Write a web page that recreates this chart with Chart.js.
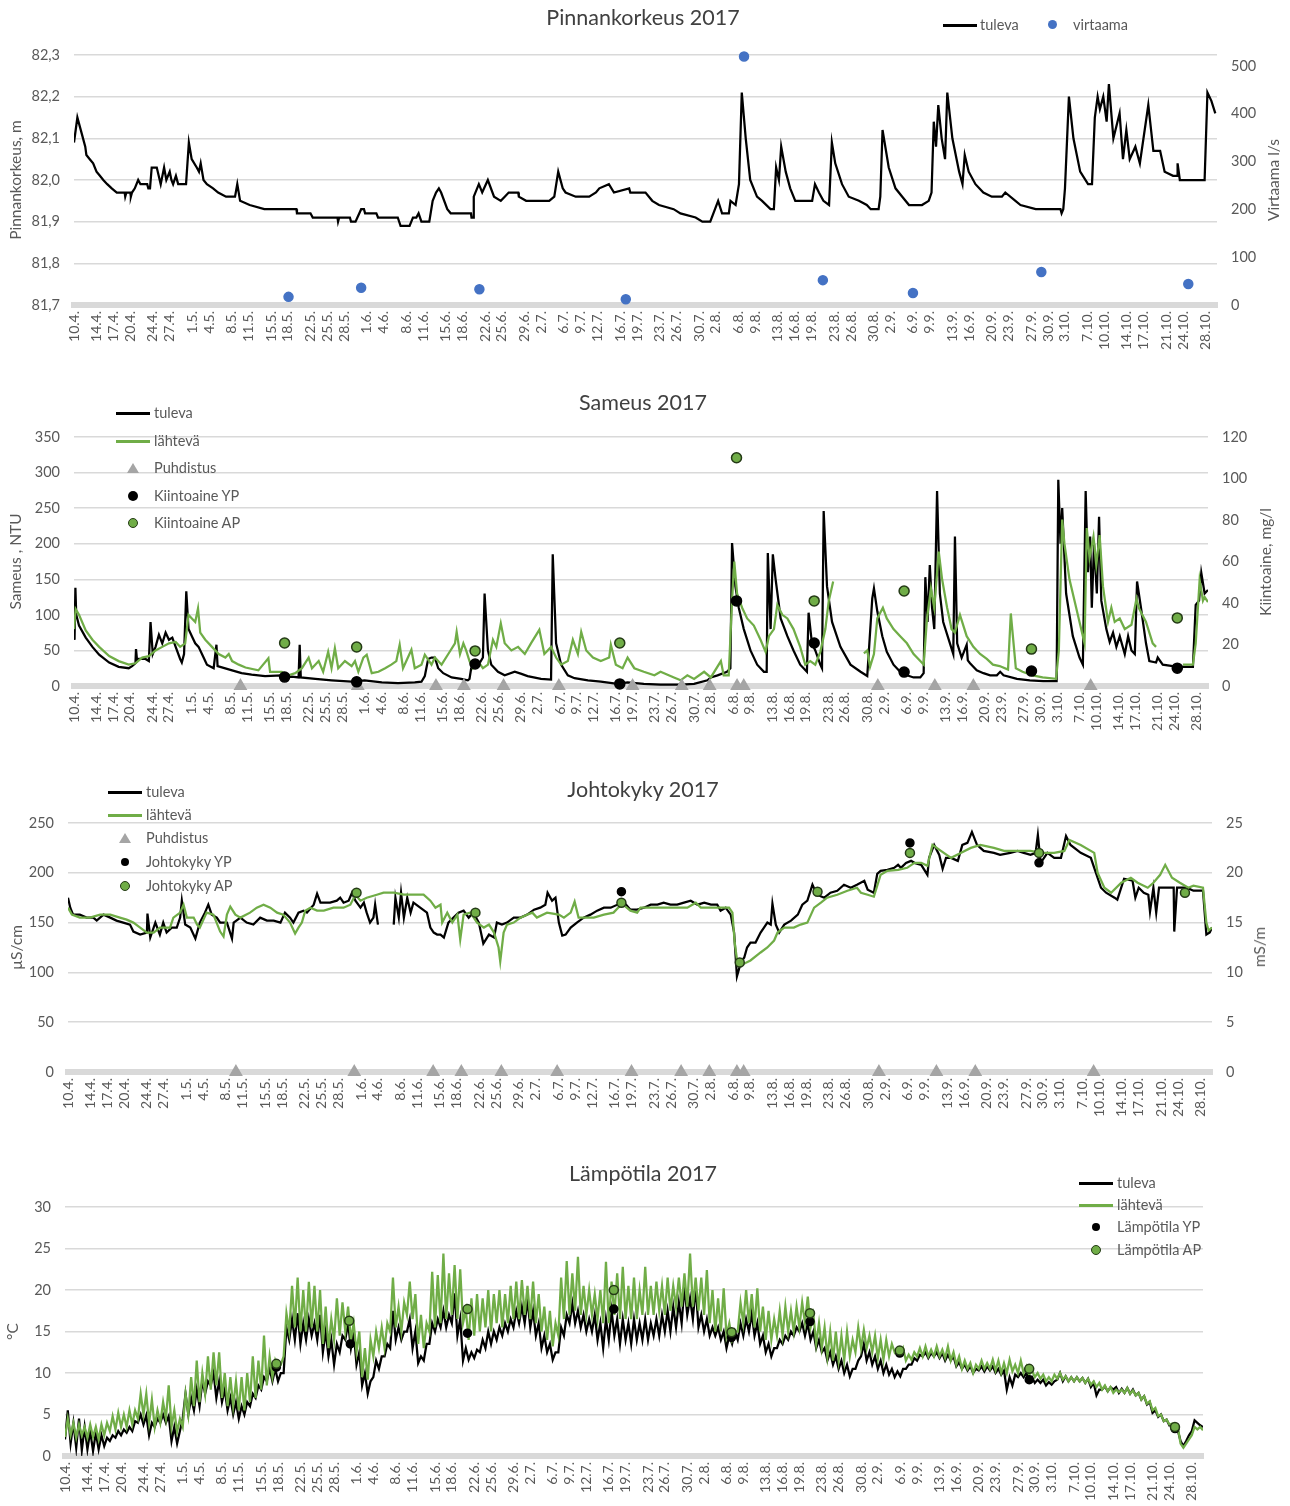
<!DOCTYPE html>
<html lang="fi">
<head>
<meta charset="utf-8">
<title>Vedenlaatu 2017</title>
<script src="https://cdn.jsdelivr.net/npm/chart.js@4.4.1/dist/chart.umd.min.js"></script>
<style>
    body { margin: 0; background: #fff; font-family: Lato, "Open Sans", sans-serif; }
    #page { position: relative; width: 1290px; height: 1506px; overflow: hidden; }
    canvas { position: absolute; left: 0; }
    .title { position: absolute; left: 0; width: 1286px; text-align: center; font-size: 21.5px; line-height: 24px; color: #404040; }
    .leg { position: absolute; font-size: 14.5px; line-height: 18px; color: #595959; white-space: nowrap; }
    .sym { position: absolute; }
    .ln { width: 34px; height: 2.5px; }
    .dot { border-radius: 50%; box-sizing: border-box; }
    .tri { width: 12px; height: 10px; background: #a5a5a5; clip-path: polygon(50% 0, 100% 100%, 0 100%); }
    .rtitle { position: absolute; font-size: 15.5px; color: #595959; white-space: nowrap; transform: translate(-50%, -50%) rotate(-90deg); }
</style>
</head>
<body>
<div id="page">
    <canvas id="levelChart" width="1290" height="380" style="top:0"></canvas>
    <canvas id="turbChart" width="1290" height="375" style="top:385px"></canvas>
    <canvas id="condChart" width="1290" height="375" style="top:770px"></canvas>
    <canvas id="tempChart" width="1290" height="351" style="top:1155px"></canvas>

    <!-- otsikot -->
    <div class="title" style="top:5px">Pinnankorkeus 2017</div>
    <div class="title" style="top:390px">Sameus 2017</div>
    <div class="title" style="top:777px">Johtokyky 2017</div>
    <div class="title" style="top:1161px">Lämpötila 2017</div>

    <!-- oikeat akselit -->
    <div class="rtitle" style="left:1273px;top:180px">Virtaama l/s</div>
    <div class="rtitle" style="left:1265px;top:562px">Kiintoaine, mg/l</div>
    <div class="rtitle" style="left:1259px;top:947px">mS/m</div>

    <!-- selitteet: pinnankorkeus -->
    <div class="sym ln" style="left:943px;top:24px;background:#000"></div>
    <div class="leg" style="left:980px;top:16px">tuleva</div>
    <div class="sym dot" style="left:1048px;top:20px;width:9px;height:9px;background:#4472c4"></div>
    <div class="leg" style="left:1073px;top:16px">virtaama</div>

    <!-- selitteet: sameus -->
    <div class="sym ln" style="left:116px;top:412px;background:#000"></div>
    <div class="leg" style="left:154px;top:404px">tuleva</div>
    <div class="sym ln" style="left:116px;top:440px;background:#70ad47"></div>
    <div class="leg" style="left:154px;top:432px">lähtevä</div>
    <div class="sym tri" style="left:127px;top:463px"></div>
    <div class="leg" style="left:154px;top:459px">Puhdistus</div>
    <div class="sym dot" style="left:128px;top:491px;width:10px;height:10px;background:#000"></div>
    <div class="leg" style="left:154px;top:487px">Kiintoaine YP</div>
    <div class="sym dot" style="left:128px;top:518px;width:10px;height:10px;background:#70ad47;border:1.5px solid #243a16"></div>
    <div class="leg" style="left:154px;top:514px">Kiintoaine AP</div>

    <!-- selitteet: johtokyky -->
    <div class="sym ln" style="left:108px;top:791px;background:#000"></div>
    <div class="leg" style="left:146px;top:783px">tuleva</div>
    <div class="sym ln" style="left:108px;top:814px;background:#70ad47"></div>
    <div class="leg" style="left:146px;top:806px">lähtevä</div>
    <div class="sym tri" style="left:119px;top:833px"></div>
    <div class="leg" style="left:146px;top:829px">Puhdistus</div>
    <div class="sym dot" style="left:121px;top:858px;width:8px;height:8px;background:#000"></div>
    <div class="leg" style="left:146px;top:853px">Johtokyky YP</div>
    <div class="sym dot" style="left:120px;top:881px;width:10px;height:10px;background:#70ad47;border:1.5px solid #243a16"></div>
    <div class="leg" style="left:146px;top:877px">Johtokyky AP</div>

    <!-- selitteet: lämpötila -->
    <div class="sym ln" style="left:1079px;top:1182px;background:#000"></div>
    <div class="leg" style="left:1117px;top:1174px">tuleva</div>
    <div class="sym ln" style="left:1079px;top:1204px;background:#70ad47"></div>
    <div class="leg" style="left:1117px;top:1196px">lähtevä</div>
    <div class="sym dot" style="left:1092px;top:1223px;width:8px;height:8px;background:#000"></div>
    <div class="leg" style="left:1117px;top:1218px">Lämpötila YP</div>
    <div class="sym dot" style="left:1091px;top:1245px;width:10px;height:10px;background:#70ad47;border:1.5px solid #243a16"></div>
    <div class="leg" style="left:1117px;top:1241px">Lämpötila AP</div>
</div>

<script>
// päivä 0 = 10.4.2017, x-akselilla päivinä
const tickDays = [0, 4, 7, 10, 14, 17, 21, 24, 28, 31, 35, 38, 42, 45, 48, 52, 55, 59, 62, 66, 69, 73, 76, 80, 83, 87, 90, 93, 97, 100,
    104, 107, 111, 114, 118, 121, 125, 128, 131, 135, 138, 142, 145, 149, 152, 156, 159, 163, 166, 170, 173, 176, 180, 183, 187, 190, 194, 197, 201];
const tickLabels = ["10.4.", "14.4.", "17.4.", "20.4.", "24.4.", "27.4.", "1.5.", "4.5.", "8.5.", "11.5.", "15.5.", "18.5.", "22.5.", "25.5.",
    "28.5.", "1.6.", "4.6.", "8.6.", "11.6.", "15.6.", "18.6.", "22.6.", "25.6.", "29.6.", "2.7.", "6.7.", "9.7.", "12.7.", "16.7.", "19.7.",
    "23.7.", "26.7.", "30.7.", "2.8.", "6.8.", "9.8.", "13.8.", "16.8.", "19.8.", "23.8.", "26.8.", "30.8.", "2.9.", "6.9.", "9.9.", "13.9.",
    "16.9.", "20.9.", "23.9.", "27.9.", "30.9.", "3.10.", "7.10.", "10.10.", "14.10.", "17.10.", "21.10.", "24.10.", "28.10."];

// puhdistuspäivät (näkyvät sameus- ja johtokykykuvissa x-akselilla)
const cleaningDays = [29.8, 50.8, 64.8, 69.8, 76.9, 86.8, 100, 108.8, 113.8, 118.7, 119.9, 143.9, 154.1, 161, 182];

// --- Pinnankorkeus, m [päivä, arvo]
const levelTicks = [81.7, 81.8, 81.9, 82.0, 82.1, 82.2, 82.3];
const flowTicks = [0, 100, 200, 300, 400, 500];
const levelIn = [[0,82.09],[0.6,82.15],[1.4,82.11],[2,82.08],[2.2,82.06],[2.8,82.05],[3.4,82.04],[4,82.02],[4.6,82.01],[5.2,82.0],[5.9,81.99],
    [6.7,81.98],[7.6,81.97],[9,81.97],[9.1,81.96],[9.3,81.97],[10,81.97],[10.1,81.96],[10.3,81.97],[10.8,81.98],[11.4,82.0],[11.8,81.99],[13,81.99],
    [13.2,81.98],[13.5,81.98],[13.8,82.03],[14.7,82.03],[15.4,81.99],[16,82.03],[16.4,82.0],[17,82.02],[17.3,82.0],[17.6,81.99],[18.1,82.01],
    [18.5,81.99],[19.9,81.99],[20.4,82.09],[20.9,82.05],[21.8,82.03],[22.2,82.02],[22.5,82.04],[23,82.0],[23.6,81.99],[24.7,81.98],[25.6,81.97],
    [27,81.96],[28.6,81.96],[29,81.99],[29.5,81.95],[31.2,81.94],[33.8,81.93],[39.5,81.93],[39.6,81.92],[42,81.92],[42.4,81.91],[46.8,81.91],
    [46.9,81.9],[47.1,81.91],[49,81.91],[49.2,81.9],[50,81.9],[51,81.93],[51.5,81.93],[51.7,81.92],[53.7,81.92],[54,81.91],[57.5,81.91],[58,81.89],
    [59.6,81.89],[60.2,81.91],[60.8,81.91],[61.2,81.92],[61.7,81.9],[63.1,81.9],[63.7,81.95],[64.3,81.97],[64.8,81.98],[65.2,81.97],[66.3,81.93],
    [66.9,81.92],[70.5,81.92],[70.6,81.91],[70.9,81.91],[71,81.96],[71.9,81.99],[72.5,81.97],[73.5,82.0],[74.6,81.96],[75.8,81.95],[76.5,81.96],
    [77.2,81.97],[78.9,81.97],[79,81.96],[80.3,81.95],[84.4,81.95],[85.3,81.96],[86,82.02],[86.8,81.98],[87.3,81.97],[89.1,81.96],[91.5,81.96],
    [92.7,81.97],[93.3,81.98],[95,81.99],[95.9,81.97],[98.6,81.98],[98.8,81.97],[101.5,81.97],[102.7,81.95],[103.9,81.94],[106.5,81.93],
    [107.7,81.92],[110.4,81.91],[111.6,81.9],[113,81.9],[114.4,81.95],[115.1,81.92],[116.3,81.92],[116.6,81.95],[117.5,81.94],[118.1,81.99],
    [118.6,82.21],[119.3,82.1],[120.1,82.0],[121.3,81.96],[122.2,81.95],[123.7,81.93],[124.3,81.93],[124.7,82.03],[125.2,82.0],[125.6,82.08],
    [126.4,82.02],[127.2,81.98],[128.1,81.95],[131.1,81.95],[131.6,81.99],[132.3,81.97],[133.1,81.95],[134.1,81.94],[134.6,82.09],[135.2,82.04],
    [136.4,81.99],[137.6,81.96],[139.4,81.95],[140.8,81.94],[141.5,81.93],[142.9,81.93],[143.2,81.96],[143.6,82.12],[144.7,82.03],[145.9,81.98],
    [147.1,81.96],[148.3,81.94],[150.6,81.94],[151.8,81.95],[152.3,81.97],[152.7,82.14],[153.1,82.08],[153.5,82.18],[154.1,82.1],[154.7,82.05],
    [155.1,82.21],[156,82.1],[157.2,82.02],[157.8,81.99],[158.2,82.06],[158.9,82.02],[160.1,81.99],[161.5,81.97],[163,81.96],[164.8,81.96],
    [165.4,81.97],[167.2,81.95],[168.1,81.94],[170.8,81.93],[175.2,81.93],[175.4,81.92],[175.7,81.93],[176,81.98],[176.7,82.2],[177.5,82.1],
    [178.7,82.02],[180.1,81.99],[180.8,81.99],[181.3,82.15],[181.8,82.2],[182.2,82.17],[182.8,82.2],[183.4,82.14],[183.8,82.23],[184.6,82.1],
    [185.7,82.16],[186.3,82.05],[186.9,82.12],[187.5,82.05],[188.5,82.08],[189.3,82.04],[190.8,82.18],[191.7,82.07],[192.9,82.07],[193.7,82.02],
    [195.2,82.01],[195.9,82.01],[196,82.04],[196.4,82.0],[200.8,82.0],[201.3,82.21],[202,82.19],[202.7,82.16]];
// virtaama l/s
const flow = [[38.1,17],[51,36],[72,33],[98,12],[119,520],[133,52],[149,25],[171.8,69],[197.9,44]];

// --- Sameus, NTU ja kiintoaine, mg/l
const turbTicks = [0, 50, 100, 150, 200, 250, 300, 350];
const solidsTicks = [0, 20, 40, 60, 80, 100, 120];
const turbIn = [[0,70],[0.1,65],[0.25,138],[0.4,100],[0.9,85],[2.1,68],[3.3,55],[4.5,44],[6.3,33],[8,27],[9.8,25],[10.4,28],[11,32],[11.1,52],
    [11.3,35],[11.6,38],[12.8,38],[13.4,35],[13.7,90],[14.1,45],[14.6,55],[15.2,72],[15.8,60],[16.4,75],[17,65],[17.6,68],[18.2,55],[19,38],
    [19.3,33],[19.7,45],[20.1,133],[20.5,80],[21.1,70],[21.7,60],[22.3,55],[23.2,40],[23.8,30],[25,25],[25.5,58],[25.7,28],[28.3,22],[30,18],
    [31.8,16],[34.2,14],[37.2,15],[37.8,12],[39,13],[40.2,12],[40.4,58],[40.6,12],[43.2,10],[46.1,8],[49.7,6],[50.9,7],[52,8],[55.1,5],[58,4],
    [61,5],[62.2,6],[62.8,14],[63.4,38],[64,40],[64.6,40],[65.2,25],[66.1,18],[67.6,12],[69.3,10],[70.5,8],[70.8,10],[71.1,25],[71.7,30],
    [72.3,28],[73.2,40],[73.5,130],[74.1,50],[74.7,30],[75.9,20],[77.1,15],[78.9,20],[80.1,17],[81.2,14],[83.6,10],[85.4,9],[85.7,185],[86.3,60],
    [87.2,30],[88.4,15],[89.6,11],[92,8],[94.3,6],[97.3,3],[99.1,5],[102,3],[105,2],[108.6,2],[111,3],[113.4,8],[114,12],[115.2,15],[116.9,20],
    [117.5,25],[117.8,201],[118.4,140],[119,110],[119.9,80],[121.1,50],[122.3,30],[123.5,20],[124,20],[124.2,187],[124.7,80],[125.1,185],
    [125.6,150],[126.5,95],[127.7,70],[128.8,50],[130,30],[131.2,20],[131.5,103],[132.1,60],[132.7,50],[133.6,30],[133.9,25],[134.2,246],
    [134.8,140],[135.7,90],[137.2,55],[139,30],[140.8,20],[142,14],[142.9,123],[143.2,137],[143.8,105],[144.7,70],[145.5,48],[146.7,30],
    [147.9,20],[149.1,15],[150.3,12],[151.5,12],[152.1,18],[152.4,153],[152.8,90],[153.2,170],[153.6,110],[154,80],[154.5,274],[155,130],
    [155.6,90],[156.8,60],[157.4,45],[157.7,210],[158.1,60],[158.9,40],[159.8,58],[160,36],[160.4,32],[161.6,22],[162.8,18],[164,15],[165.2,15],
    [165.8,20],[166.4,15],[168.8,10],[171.1,8],[173.5,7],[175.9,7],[176.2,290],[176.6,200],[176.9,250],[177.6,130],[178.8,70],[180,40],
    [180.6,30],[181.1,274],[181.5,160],[181.9,210],[182.2,110],[182.6,200],[183.1,130],[183.5,238],[183.9,120],[184.8,80],[185.4,62],[186,75],
    [186.6,55],[187.2,70],[188.1,45],[188.7,70],[189.3,50],[189.9,45],[190.3,147],[191,110],[191.9,60],[192.5,35],[193.7,33],[194,40],[194.9,30],
    [196.7,28],[198.5,27],[200.3,27],[200.8,114],[201.4,120],[201.8,159],[202.4,130],[203,135]];
const turbOut = [[0,80],[0.3,108],[0.9,100],[2.1,78],[3.3,65],[4.5,55],[6.3,42],[8,35],[9.8,30],[11,32],[12.2,40],[13.4,42],[14.6,50],[15.8,55],
    [17,60],[18.2,62],[19,55],[19.9,60],[20.5,100],[21.1,95],[21.7,90],[22.2,109],[22.6,75],[23.5,65],[24.7,55],[25.9,45],[27.1,40],[27.7,45],
    [28.3,35],[29.5,30],[30.7,26],[33,22],[34.8,39],[35.1,20],[37.2,20],[38.4,15],[39.6,18],[40.8,25],[42,40],[42.6,25],[43.8,35],[44.6,20],
    [45.5,48],[46.1,25],[46.7,53],[47.3,25],[48.5,35],[49.7,28],[50.3,35],[50.9,20],[51.8,40],[52.4,44],[53.3,18],[54.5,20],[55.7,25],[56.8,30],
    [57.7,35],[58.3,58],[58.9,25],[60.4,51],[61,25],[62.2,30],[62.8,44],[64,30],[64.6,40],[65.8,30],[67,45],[68.2,60],[68.5,76],[69.1,45],
    [69.7,60],[70.2,50],[70.8,35],[71.4,25],[72.3,35],[73.2,25],[74.1,30],[75,65],[75.6,55],[76.4,88],[77.1,60],[78.3,50],[79.5,55],[80.7,45],
    [81.8,60],[83.3,79],[84.2,45],[85.4,55],[86.3,40],[87.2,30],[88.4,35],[89.3,65],[90.2,45],[90.8,76],[91.7,50],[92.9,40],[94.3,35],[95.8,40],
    [96.1,58],[97,30],[98.2,25],[99.1,40],[100.3,25],[102,20],[103.9,15],[105,20],[107.4,12],[108.6,8],[109.8,15],[111,10],[112.8,20],[114,12],
    [115.8,35],[116.3,15],[117.2,15],[117.8,120],[118.2,175],[118.7,130],[119.6,110],[120.5,95],[121.7,85],[122.9,65],[123.8,48],[124.4,70],
    [125.3,80],[125.9,114],[126.8,100],[127.7,95],[128.8,80],[130,55],[130.9,30],[131.8,35],[132.7,30],[133.6,48],[134.5,80],[135.1,119],
    [135.9,147],[138,null],[141.4,46],[142,50],[142.5,27],[143.2,45],[143.8,95],[144.8,110],[145.5,95],[146.7,80],[147.9,70],[149.1,60],
    [150.3,45],[151.5,35],[152.1,30],[152.7,95],[153.4,137],[154,110],[154.8,189],[155.4,150],[156.3,110],[157.1,80],[157.7,75],[158.6,100],
    [159.8,70],[161,55],[162.2,45],[163.4,38],[164.5,30],[165.7,28],[167.2,23],[167.7,102],[168.6,25],[169.8,20],[171.6,15],[173.4,12],
    [175.8,10],[176.3,50],[176.9,234],[177.3,200],[178.2,150],[179.4,110],[180.6,70],[180.9,60],[181.3,222],[181.8,180],[182.5,210],[183,170],
    [183.6,212],[184.2,140],[185.1,90],[185.7,110],[186.3,90],[187.2,95],[188.1,80],[189.3,86],[190.2,123],[190.6,110],[191.9,90],[193.1,60],
    [193.7,55],[196,null],[198.5,30],[200.3,30],[200.8,60],[201.5,149],[202.1,120],[202.4,125],[203,118]];
const solidsIn = [[37.7,4.3],[50.6,2],[71.8,10.6],[97.7,1],[118.6,41],[132.5,20.7],[148.6,6.7],[171.4,7.2],[197.5,8.6]];
const solidsOut = [[37.7,20.7],[50.6,18.8],[71.8,16.9],[97.7,20.7],[118.6,110],[132.5,41],[148.6,45.8],[171.4,17.8],[197.5,32.8]];

// --- Johtokyky, µS/cm (oikea akseli mS/m)
const condTicks = [0, 50, 100, 150, 200, 250];
const condTicksMs = [0, 5, 10, 15, 20, 25];
const condIn = [[0,175],[0.4,165],[0.9,158],[2.1,158],[3.3,155],[4.5,155],[5.1,152],[6.3,158],[7.5,155],[8.6,152],[9.8,150],[11,148],[11.6,141],
    [12.8,138],[14,140],[14.1,159],[14.6,135],[15.5,150],[16.3,138],[16.9,150],[17.5,140],[18.4,145],[19.3,145],[19.9,155],[20.2,172],[20.8,148],
    [21.7,145],[22.6,134],[23.4,150],[24.3,160],[24.9,168],[25.5,158],[26.4,155],[27,150],[28.2,150],[29.1,134],[29.4,150],[30.6,155],[31.7,150],
    [32.9,148],[34.1,155],[35.3,152],[36.5,152],[37.7,150],[38.5,160],[39.4,155],[40,150],[40.9,160],[41.8,162],[42.4,160],[43.6,168],[44.2,179],
    [44.8,170],[46.5,170],[47.7,172],[48.3,175],[48.9,170],[49.8,172],[50.4,180],[51,172],[51.9,165],[52.5,170],[53,160],[53.6,150],[54.2,155],
    [54.5,168],[55,148],[56.5,null],[57.8,148],[58.1,175],[58.7,155],[59.1,180],[59.6,155],[60.2,175],[60.8,160],[61.3,170],[62.5,165],
    [63.7,160],[64.3,145],[64.9,140],[65.5,138],[66.1,138],[66.7,135],[67.5,150],[68.4,155],[69.3,160],[70.2,162],[71.1,155],[71.9,160],
    [72.9,150],[73.7,129],[74.7,138],[75.6,135],[76.1,150],[77,148],[77.9,150],[79.1,155],[80.3,155],[81.5,158],[82.7,163],[83.8,165],[84.7,168],
    [85.1,180],[85.9,172],[86.5,175],[87.1,150],[87.7,137],[88.3,138],[89.2,145],[90.3,150],[91.5,155],[92.7,158],[93.9,162],[95.1,165],
    [96.3,165],[97.5,168],[98.2,172],[99,168],[99.8,163],[101,163],[102.2,165],[103.4,168],[104.6,168],[105.7,170],[106.9,168],[108.1,168],
    [109.3,170],[110.5,172],[111.7,168],[112.9,170],[114.1,168],[115.2,168],[115.8,162],[116.7,165],[117.6,158],[118.2,140],[118.7,96],
    [119.4,110],[120,115],[120.5,125],[121.1,130],[122,130],[122.9,140],[123.5,145],[124.1,150],[124.7,148],[125,169],[125.6,148],[126.2,140],
    [127.1,148],[128.3,152],[129.5,158],[130.3,168],[131.2,172],[132.1,188],[132.9,178],[134.2,175],[135.3,180],[136.5,182],[137.7,188],
    [138.9,185],[140,188],[141.3,192],[141.9,183],[143,180],[143.6,199],[144.2,202],[145.4,203],[146.6,205],[147.3,208],[147.8,205],[148.7,210],
    [149.6,212],[150.2,210],[151.4,208],[152.5,198],[152.8,215],[153.7,228],[154.6,218],[155.2,204],[155.8,215],[156.7,215],[157.9,212],
    [158.7,228],[159.6,230],[160.4,241],[161.3,228],[162.5,222],[164.3,220],[165.4,218],[167.2,220],[168.5,222],[169.6,220],[170.8,218],
    [171.7,220],[172.1,238],[172.6,210],[173.8,220],[175,215],[176.2,215],[177.1,237],[177.9,228],[179.7,220],[181.5,215],[182.1,205],
    [183.3,185],[184.2,180],[185.7,175],[186.2,173],[187.4,194],[188.9,192],[189.4,175],[190,185],[190.9,180],[191.7,178],[192,161],[192.6,185],
    [193.1,160],[193.6,185],[195,185],[196.2,185],[196.3,141],[196.8,185],[198.5,185],[199.7,182],[201.4,182],[201.7,160],[202,138],[202.6,140],
    [203,145]];
const condOut = [[0,165],[0.7,158],[2.1,155],[3.9,155],[5.7,158],[7.5,158],[9.2,155],[10.4,153],[11.6,150],[12.8,145],[14,140],[15.2,140],
    [16.3,145],[18.1,145],[18.7,155],[19.9,160],[20.5,168],[21.1,155],[22.3,155],[22.9,148],[23.4,145],[24.6,160],[25.8,158],[27,141],[27.6,136],
    [28.2,158],[28.8,166],[29.7,158],[30.6,155],[32.3,160],[33.5,165],[34.7,168],[35.9,165],[37.1,160],[38.2,158],[39.4,150],[40.3,139],
    [40.9,145],[41.5,150],[42.1,162],[43,165],[44.2,162],[45.4,162],[47.1,165],[48.9,165],[50.1,168],[51,178],[51.9,172],[53,175],[54.8,178],
    [56,180],[57.8,180],[59.6,178],[61.3,178],[63.1,178],[64.3,172],[65.2,165],[66.1,168],[66.4,150],[67.3,160],[68.2,150],[69.1,158],[69.6,133],
    [70.2,158],[71.4,160],[72.6,150],[73.8,145],[74.7,148],[75.6,140],[76.4,125],[76.7,111],[77.3,140],[77.9,148],[79.1,150],[80.3,155],
    [81.5,158],[82.4,160],[83.2,155],[85,160],[87.1,158],[88,155],[89.2,160],[89.9,171],[90.6,155],[92.1,155],[93.3,155],[95.1,158],[96.8,160],
    [98.3,169],[99.8,162],[101,160],[101.6,165],[103.4,165],[105.7,165],[108.1,165],[109.9,165],[111.4,170],[112.3,165],[114.1,165],[115.8,165],
    [117.3,165],[117.9,160],[118.3,130],[118.8,109],[119.7,108],[121.1,112],[122.9,120],[124.1,125],[125.3,132],[125.9,140],[127.1,145],
    [128.8,145],[130,148],[131.2,150],[132.4,165],[133.6,170],[134.7,175],[136.5,178],[138.3,182],[140,185],[140.7,180],[141.9,178],[143,176],
    [144.2,198],[145.4,202],[147.3,203],[148.9,205],[150.2,210],[151.4,210],[152.5,207],[153.4,228],[154.9,222],[156.7,215],[158.4,220],
    [160.2,225],[161.9,228],[164.3,225],[166.1,222],[168.5,222],[170.8,222],[172.6,220],[175,220],[176.8,222],[177.7,233],[179.7,228],
    [182.1,220],[182.7,200],[183.9,185],[185.1,180],[186.9,190],[188.6,195],[189.8,190],[191.6,185],[192.6,190],[193.8,198],[194.7,208],
    [195.9,195],[197.3,190],[198.8,185],[199.7,187],[201.4,185],[202,150],[202.4,142],[203,145]];
const condLabIn = [[98.2,181],[149.4,230],[172.3,210]];
const condLabOut = [[51.2,180],[72.3,160],[98.2,170],[119.2,110],[133,181],[149.4,220],[172.3,220],[198.2,180]];

// --- Lämpötila, °C: puolen vuorokauden välein alkaen 10.4.
const tempTicks = [0, 5, 10, 15, 20, 25, 30];
const tempIn = [2.0,5.5, 1.5,4.0, 1.0,4.5, 0.7,3.5, 0.8,3.0, 0.6,2.8, 0.8,2.5, 1.2,2.2, 1.8,2.5, 2.2,3.0, 2.5,3.2, 2.8,3.5, 3.0,4.2,
    4.0,5.0, 3.8,4.9, 2.5,4.0, 3.5,4.5, 4.0,5.0, 4.0,4.8, 1.8,3.5, 1.5,3.0, 4.5,7.5, 5.0,7.0, 5.5,8.0, 6.0,9.0, 7.5,9.0, 8.5,10.0,
    7.0,9.0, 6.5,8.0, 5.5,7.0, 5.0,6.5, 4.5,6.0, 5.0,6.5, 6.0,7.5, 7.0,8.5, 8.0,9.5, 9.0,10.5, 9.0,10.5, 9.0,10.0, 10.0,15.5, 14.0,16.5,
    14.0,17.2, 13.5,16.0, 14.0,16.5, 14.5,16.0, 14.0,17.0, 12.5,15.0, 12.0,14.0, 11.0,13.5, 12.5,14.5, 14.0,16.0, 13.0,15.0, 11.0,12.5,
    8.5,10.0, 7.5,9.0, 9.5,11.5, 10.5,12.0, 12.0,13.5, 13.0,17.5, 14.0,15.5, 14.0,15.0, 15.0,16.5, 13.0,15.0, 11.2,12.0, 11.5,13.5,
    13.5,16.0, 15.0,16.5, 15.5,17.5, 15.5,17.0, 16.0,19.6, 14.5,16.5, 11.5,13.0, 11.6,12.5, 11.8,12.8, 12.5,14.0, 13.0,15.0, 13.5,15.0,
    14.0,15.5, 14.5,16.0, 15.0,16.5, 15.5,17.5, 16.0,18.0, 16.0,18.8, 15.5,17.5, 14.5,16.0, 13.0,14.5, 12.5,13.5, 11.6,12.5, 12.5,15.5,
    14.5,17.0, 16.0,18.4, 16.0,17.5, 15.5,17.0, 15.0,16.5, 15.0,17.0, 14.0,16.0, 13.0,16.5, 14.0,17.5, 14.5,16.5, 13.5,16.5, 14.0,16.0,
    13.5,16.5, 14.0,16.0, 14.0,16.5, 14.0,16.0, 14.5,16.5, 14.5,17.0, 15.0,17.5, 15.0,18.0, 15.5,18.5, 16.0,20.4, 17.0,19.0, 16.5,20.4,
    15.5,17.0, 15.0,16.5, 14.5,15.5, 14.5,15.5, 14.0,15.0, 13.0,14.5, 13.5,15.0, 14.0,16.0, 14.5,16.5, 15.0,17.2, 14.5,16.0, 13.5,14.5,
    12.5,13.5, 12.0,13.0, 13.0,14.0, 13.5,14.5, 14.0,15.0, 14.5,15.5, 15.0,16.0, 14.5,16.0, 14.0,15.0, 13.0,14.0, 12.5,13.0, 11.5,12.5,
    11.0,12.0, 10.5,11.5, 10.0,11.0, 9.6,10.5, 10.5,11.5, 12.0,13.5, 11.5,12.5, 11.0,12.0, 10.5,11.5, 10.0,11.0, 9.8,10.5, 9.5,10.2,
    9.6,10.5, 10.5,11.0, 11.0,11.8, 11.5,12.2, 12.0,12.5, 11.8,12.4, 12.0,12.5, 11.8,12.4, 11.5,12.2, 11.5,12.0, 10.8,11.3, 10.5,11.0,
    10.3,10.8, 10.0,10.5, 10.3,10.8, 10.2,10.8, 10.3,10.8, 10.0,10.5, 9.8,10.3, 8.0,9.5, 8.5,9.8, 9.5,10.0, 9.5,10.0, 9.0,9.5, 8.8,9.2,
    8.8,9.2, 8.5,8.9, 8.6,9.0, 9.2,10.0, 9.0,9.6, 9.0,9.5, 9.0,9.5, 9.0,9.4, 8.8,9.3, 8.3,8.8, 7.3,8.0, 8.0,8.4, 7.8,8.3, 8.0,8.3,
    7.6,8.1, 7.6,8.2, 7.5,8.0, 7.3,7.6, 6.8,7.2, 6.2,6.5, 5.2,5.5, 4.7,5.0, 4.2,4.4, 3.7,3.8, 3.3,3.1, 1.8,1.2, 1.8,2.5, 3.0,4.3,
    4.0,3.7, 3.5];
const tempOut = [2.3,4.5, 2.5,4.0, 2.2,3.8, 2.5,3.5, 2.2,3.8, 2.3,3.5, 2.0,3.8, 2.5,4.0, 3.0,4.8, 3.2,5.2, 3.5,5.0, 3.5,5.5, 3.8,5.5,
    4.5,7.5, 5.0,7.5, 4.0,6.8, 3.5,5.5, 4.0,6.5, 4.5,8.5, 3.5,5.5, 2.9,4.5, 3.5,7.5, 5.0,9.5, 6.0,11.5, 6.5,10.0, 7.5,12.0, 8.0,12.5,
    8.5,12.5, 7.0,10.0, 6.0,9.5, 6.0,9.0, 5.5,9.5, 5.5,10.0, 6.5,12.0, 7.0,11.5, 8.0,14.5, 8.5,12.0, 9.5,11.5, 10.5,11.0, 12.0,17.2,
    15.0,20.5, 15.5,21.5, 15.0,20.0, 15.0,21.0, 15.5,20.5, 15.0,20.0, 13.5,18.0, 13.0,16.5, 14.0,19.0, 14.5,18.5, 15.0,18.0, 14.0,16.0,
    12.5,15.0, 9.5,13.0, 9.2,14.0, 12.0,15.0, 13.0,15.5, 13.0,16.0, 15.0,21.5, 15.5,18.0, 15.0,18.5, 17.0,21.0, 16.5,19.5, 13.5,17.0,
    13.0,16.0, 15.0,22.2, 15.5,21.8, 16.0,24.4, 16.5,22.0, 17.0,23.0, 16.5,22.5, 16.0,17.6, 14.0,19.0, 14.5,19.5, 15.0,19.0, 15.5,20.0,
    15.0,19.5, 16.0,20.0, 15.5,19.5, 16.0,20.5, 16.5,21.0, 16.5,21.2, 17.0,20.5, 16.5,21.0, 16.0,19.5, 15.0,18.0, 14.0,17.5, 13.2,16.0,
    14.5,21.5, 16.5,23.5, 17.0,22.0, 17.5,24.0, 17.0,20.5, 17.0,20.0, 17.0,19.5, 16.5,20.0, 16.0,23.4, 16.0,21.0, 17.0,22.0, 16.5,22.8,
    16.5,20.5, 16.5,21.5, 16.5,20.0, 17.0,22.8, 17.0,20.5, 17.0,21.0, 17.5,20.5, 17.0,21.5, 17.5,20.5, 18.0,21.5, 18.0,22.0, 18.0,24.4,
    18.0,21.5, 17.5,21.5, 17.0,22.4, 16.0,20.0, 15.0,19.0, 15.0,20.2, 14.5,16.0, 14.0,15.0, 15.0,18.5, 16.0,20.0, 16.0,19.5, 15.5,20.2,
    15.0,18.0, 14.0,17.5, 14.0,16.5, 14.5,17.5, 14.5,18.0, 15.0,17.5, 15.0,18.0, 15.5,18.5, 16.0,19.2, 15.5,17.0, 13.5,16.0, 13.0,15.5,
    12.0,15.0, 11.5,15.0, 11.5,14.5, 11.5,15.0, 12.0,14.0, 12.5,15.5, 13.0,15.2, 13.0,14.5, 12.5,14.5, 11.8,14.0, 11.6,14.0, 12.0,13.5,
    12.5,13.0, 12.2,13.0, 11.5,12.2, 11.6,12.5, 12.0,13.0, 12.0,13.2, 12.0,12.8, 12.0,13.2, 12.0,12.8, 11.8,13.2, 11.5,12.5, 11.0,12.0,
    10.5,11.5, 10.5,11.2, 10.0,11.0, 10.5,11.5, 10.5,11.2, 10.5,11.6, 10.3,11.5, 10.0,11.2, 10.0,11.6, 10.2,11.0, 10.0,11.5, 10.0,10.8,
    9.8,10.3, 9.5,10.0, 9.3,9.8, 9.0,9.5, 9.0,9.8, 9.3,10.0, 9.2,9.6, 9.0,9.5, 9.0,9.5, 9.0,9.4, 8.8,9.3, 8.6,9.0, 8.3,8.8, 8.0,8.5,
    7.8,8.3, 7.6,8.0, 7.7,8.0, 7.6,8.2, 7.5,7.9, 7.3,7.6, 6.8,7.2, 6.3,6.6, 5.5,5.8, 4.8,5.0, 4.2,4.4, 3.8,3.9, 3.4,3.5, 1.5,1.0,
    1.5,2.0, 2.5,3.5, 3.2,3.5, 3.1];
const tempLabIn = [[37.7,10.7],[50.9,13.5],[71.8,14.8],[97.9,17.7],[118.9,14.3],[132.9,16.2],[148.9,12.4],[172,9.2],[198,3.3]];
const tempLabOut = [[37.7,11.1],[50.7,16.3],[71.8,17.7],[97.9,20],[118.9,14.9],[132.9,17.2],[148.9,12.7],[172,10.5],[198,3.5]];

const BLACK = "#000000";
const GREEN = "#70ad47";
const GREY_TEXT = "#595959";

Chart.defaults.font.family = "Lato, 'Open Sans', sans-serif";
Chart.defaults.color = GREY_TEXT;
Chart.defaults.animation = false;
Chart.defaults.plugins.legend.display = false;
Chart.defaults.plugins.tooltip.enabled = false;

const toPoints = (pairs) => pairs.map(([x, y]) => ({ x, y }));
const halfDays = (values) => values.map((y, i) => ({ x: i / 2, y }));
const cleaningPoints = () => cleaningDays.map((d) => ({ x: d, y: 0 }));

// x-akseli: paksu harmaa akseliviiva, päivämäärät pystyssä
function dateAxis(height) {
    return {
        type: "linear",
        min: 0,
        max: 203,
        grid: { display: false, drawTicks: false },
        border: { display: true, color: "#d9d9d9", width: 6 },
        afterBuildTicks: (axis) => { axis.ticks = tickDays.map((value) => ({ value })); },
        afterFit: (axis) => { axis.height = height; },
        ticks: {
            autoSkip: false, minRotation: 90, maxRotation: 90, padding: 6,
            font: { size: 14 },
            callback: (value, index) => tickLabels[index]
        }
    };
}

function valueAxis({ position, min, max, values, width, title, titlePad, grid, format }) {
    return {
        type: "linear",
        position,
        min,
        max,
        grid: { display: grid, color: "#d9d9d9", lineWidth: 1.5, drawTicks: false },
        border: { display: false },
        afterBuildTicks: (axis) => { axis.ticks = values.map((value) => ({ value })); },
        afterFit: (axis) => { axis.width = width; },
        ticks: { padding: 14, font: { size: 14.5 }, callback: format || ((v) => v) },
        title: {
            display: !!title, text: title, font: { size: 15.5 },
            padding: { top: titlePad || 0, bottom: 0 }
        }
    };
}

function lineSet(label, pairs, color, yAxisID, order) {
    return {
        label, data: pairs, borderColor: color, backgroundColor: color, borderWidth: 2.25,
        pointRadius: 0, tension: 0, spanGaps: false, yAxisID, order
    };
}

function markerSet(label, pairs, fill, border, radius, yAxisID, style) {
    return {
        label, data: pairs, showLine: false, pointStyle: style || "circle", pointRadius: radius,
        pointBackgroundColor: fill, pointBorderColor: border, pointBorderWidth: 1.5,
        yAxisID, order: 0, clip: false
    };
}

function makeChart(id, padTop, padRight, datasets, scales) {
    return new Chart(document.getElementById(id), {
        type: "line",
        data: { datasets },
        options: {
            responsive: false,
            devicePixelRatio: 1,
            layout: { padding: { top: padTop, right: padRight, bottom: 0, left: 0 } },
            scales
        }
    });
}

// Pinnankorkeus
makeChart("levelChart", 55, 0, [
    markerSet("virtaama", toPoints(flow), "#4472c4", "#4472c4", 4.5, "y2"),
    lineSet("tuleva", toPoints(levelIn), BLACK, "y", 2)
], {
    x: dateAxis(75),
    y: valueAxis({ position: "left", min: 81.7, max: 82.3, values: levelTicks, width: 74, grid: true,
        title: "Pinnankorkeus, m", titlePad: 7, format: (v) => v.toFixed(1).replace(".", ",") }),
    y2: valueAxis({ position: "right", min: 0, max: 523, values: flowTicks, width: 73, grid: false })
});

// Sameus
makeChart("turbChart", 52, 0, [
    markerSet("Kiintoaine AP", toPoints(solidsOut), GREEN, "#243a16", 5, "y2"),
    markerSet("Kiintoaine YP", toPoints(solidsIn), BLACK, BLACK, 5, "y2"),
    markerSet("Puhdistus", cleaningPoints(), "#a5a5a5", "#a5a5a5", 6.5, "y", "triangle"),
    lineSet("lähtevä", toPoints(turbOut), GREEN, "y", 1),
    lineSet("tuleva", toPoints(turbIn), BLACK, "y", 2)
], {
    x: dateAxis(74),
    y: valueAxis({ position: "left", min: 0, max: 350, values: turbTicks, width: 74, grid: true,
        title: "Sameus , NTU", titlePad: 7 }),
    y2: valueAxis({ position: "right", min: 0, max: 120, values: solidsTicks, width: 82, grid: false })
});

// Johtokyky
makeChart("condChart", 53, 0, [
    markerSet("Johtokyky AP", toPoints(condLabOut), GREEN, "#243a16", 4.5, "y"),
    markerSet("Johtokyky YP", toPoints(condLabIn), BLACK, BLACK, 4, "y"),
    markerSet("Puhdistus", cleaningPoints(), "#a5a5a5", "#a5a5a5", 6.5, "y", "triangle"),
    lineSet("lähtevä", toPoints(condOut), GREEN, "y", 1),
    lineSet("tuleva", toPoints(condIn), BLACK, "y", 2)
], {
    x: dateAxis(73),
    y: valueAxis({ position: "left", min: 0, max: 250, values: condTicks, width: 68, grid: true,
        title: "µS/cm", titlePad: 8 }),
    y2: valueAxis({ position: "right", min: 0, max: 25, values: condTicksMs, width: 78, grid: false })
});

// Lämpötila
makeChart("tempChart", 52, 87, [
    markerSet("Lämpötila AP", toPoints(tempLabOut), GREEN, "#243a16", 4.5, "y"),
    markerSet("Lämpötila YP", toPoints(tempLabIn), BLACK, BLACK, 4, "y"),
    lineSet("lähtevä", halfDays(tempOut), GREEN, "y", 1),
    lineSet("tuleva", halfDays(tempIn), BLACK, "y", 2)
], {
    x: dateAxis(50),
    y: valueAxis({ position: "left", min: 0, max: 30, values: tempTicks, width: 65, grid: true,
        title: "°C", titlePad: 4 })
});
</script>
</body>
</html>
